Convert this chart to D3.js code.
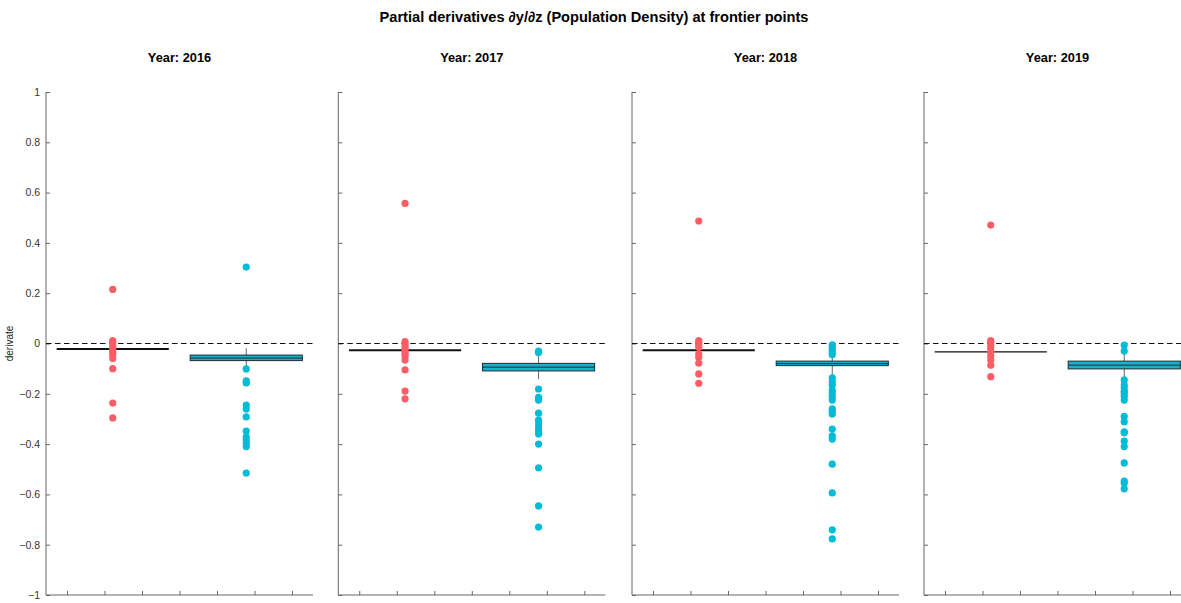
<!DOCTYPE html>
<html>
<head>
<meta charset="utf-8">
<script src="https://cdn.jsdelivr.net/npm/d3@7/dist/d3.min.js"></script>
<style>
  html, body { margin: 0; padding: 0; background: #fff; }
  svg { display: block; font-family: "Liberation Sans", Arial, Helvetica, sans-serif; }
</style>
</head>
<body>
<svg id="chart" width="1181" height="603"></svg>
<script>
// ---------------- DATA ----------------
const years = [2016, 2017, 2018, 2019];
const groups = ["A", "B"]; // two groups per panel (red, cyan)

// red group: compressed box (q1 = median = q3)
const redMedian = [-0.022, -0.027, -0.027, -0.033];
const redPoints = [
  [0.215, 0.012, 0.004, -0.005, -0.015, -0.025, -0.035, -0.045, -0.06, -0.10, -0.237, -0.296],
  [0.557, 0.008, 0.0, -0.01, -0.02, -0.03, -0.04, -0.05, -0.066, -0.105, -0.189, -0.22],
  [0.487, 0.012, 0.004, -0.005, -0.015, -0.042, -0.055, -0.078, -0.121, -0.158],
  [0.471, 0.012, 0.004, -0.008, -0.02, -0.035, -0.05, -0.066, -0.086, -0.132]
];

// cyan group: box statistics
const blueQ1 = [-0.068, -0.109, -0.088, -0.101];
const blueMedian = [-0.058, -0.094, -0.080, -0.086];
const blueQ3 = [-0.046, -0.079, -0.070, -0.070];
const blueWhiskerHigh = [-0.019, -0.042, -0.050, -0.038];
const blueWhiskerLow = [-0.090, -0.142, -0.125, -0.132];
const bluePoints = [
  [0.304, -0.101, -0.149, -0.157, -0.245, -0.26, -0.292, -0.348, -0.372, -0.384, -0.396, -0.41, -0.515],
  [-0.03, -0.036, -0.181, -0.214, -0.225, -0.277, -0.305, -0.32, -0.336, -0.348, -0.36, -0.40, -0.494, -0.646, -0.73],
  [-0.005, -0.015, -0.025, -0.035, -0.045, -0.137, -0.153, -0.165, -0.185, -0.197, -0.21, -0.225, -0.26, -0.27, -0.28, -0.34, -0.367, -0.38, -0.48, -0.594, -0.741, -0.777],
  [-0.006, -0.03, -0.145, -0.165, -0.177, -0.19, -0.198, -0.21, -0.225, -0.29, -0.311, -0.351, -0.355, -0.388, -0.41, -0.475, -0.547, -0.555, -0.578]
];

const yTicks = [-1, -0.8, -0.6, -0.4, -0.2, 0, 0.2, 0.4, 0.6, 0.8, 1];
const xTicks = [0.657, 0.938, 1.219, 1.5, 1.781, 2.062, 2.343];
const groupPos = [1, 2];

const titleText = "Partial derivatives \u2202y/\u2202z (Population Density) at frontier points";
const yLabel = "derivate";

// ---------------- LAYOUT ----------------
const svg = d3.select("#chart");
const panelLefts = [46, 338.3, 632, 924];
const panelWidth = 267;
const plotTop = 92, plotBottom = 595;
const redColor = "#ff5d66";
const cyanColor = "#00bcd6";
const boxFill = "#18b2c8";
const boxWidthUnits = 0.84;

const y = d3.scaleLinear().domain([-1, 1]).range([plotBottom, plotTop]);

svg.append("text")
  .attr("x", 594).attr("y", 22)
  .attr("text-anchor", "middle")
  .attr("font-size", 14.6).attr("font-weight", "bold")
  .attr("fill", "#000")
  .text(titleText);

svg.append("text")
  .attr("transform", `translate(13,${y(0)}) rotate(-90)`)
  .attr("text-anchor", "middle")
  .attr("font-size", 10)
  .attr("fill", "#222")
  .text(yLabel);

years.forEach((yr, i) => {
  const left = panelLefts[i];
  const x = d3.scaleLinear().domain([0.5, 2.5]).range([left, left + panelWidth]);
  const g = svg.append("g");

  // panel title
  g.append("text")
    .attr("x", left + panelWidth / 2).attr("y", 62)
    .attr("text-anchor", "middle")
    .attr("font-size", 12.8).attr("font-weight", "bold")
    .attr("fill", "#000")
    .text("Year: " + yr);

  // y axis (ticks inward)
  const yAxis = d3.axisRight(y).tickValues(yTicks).tickSize(4)
    .tickFormat(i === 0 ? d3.format("~g") : () => "");
  const ya = g.append("g").attr("transform", `translate(${left},0)`).call(yAxis);
  ya.select(".domain").attr("stroke", "#666").attr("d", `M0,${plotTop}V${plotBottom}`);
  ya.selectAll(".tick line").attr("stroke", "#666");
  ya.selectAll(".tick text")
    .attr("x", -6).attr("text-anchor", "end")
    .attr("font-size", 10.5).attr("fill", "#333")
    .attr("font-family", "Liberation Sans, Arial, sans-serif");

  // x axis (ticks inward, no labels)
  const xAxis = d3.axisTop(x).tickValues(xTicks).tickSize(4).tickFormat(() => "");
  const xa = g.append("g").attr("transform", `translate(0,${plotBottom})`).call(xAxis);
  xa.select(".domain").attr("stroke", "#666").attr("d", `M${left},0H${left + panelWidth}`);
  xa.selectAll(".tick line").attr("stroke", "#666");

  // zero reference line
  g.append("line")
    .attr("x1", left).attr("x2", left + panelWidth)
    .attr("y1", y(0)).attr("y2", y(0))
    .attr("stroke", "#111").attr("stroke-width", 1.1)
    .attr("stroke-dasharray", "5.5,3.5");

  // red group box (collapsed to a line)
  const rx = groupPos[0];
  g.append("line")
    .attr("x1", x(rx - boxWidthUnits / 2)).attr("x2", x(rx + boxWidthUnits / 2))
    .attr("y1", y(redMedian[i])).attr("y2", y(redMedian[i]))
    .attr("stroke", "#111").attr("stroke-width", i === 3 ? 1.3 : 2);

  // cyan group box
  const bx = groupPos[1];
  g.append("line")
    .attr("x1", x(bx)).attr("x2", x(bx))
    .attr("y1", y(blueWhiskerHigh[i])).attr("y2", y(blueWhiskerLow[i]))
    .attr("stroke", "#666").attr("stroke-width", 1);
  g.append("rect")
    .attr("x", x(bx - boxWidthUnits / 2))
    .attr("width", x(bx + boxWidthUnits / 2) - x(bx - boxWidthUnits / 2))
    .attr("y", y(blueQ3[i]))
    .attr("height", y(blueQ1[i]) - y(blueQ3[i]))
    .attr("fill", boxFill).attr("stroke", "#1d2b33").attr("stroke-width", 1);
  g.append("line")
    .attr("x1", x(bx - boxWidthUnits / 2)).attr("x2", x(bx + boxWidthUnits / 2))
    .attr("y1", y(blueMedian[i])).attr("y2", y(blueMedian[i]))
    .attr("stroke", "#1d2b33").attr("stroke-width", 1);

  // outlier points
  g.selectAll("circle.red").data(redPoints[i]).enter().append("circle")
    .attr("class", "red")
    .attr("cx", x(rx)).attr("cy", d => y(d)).attr("r", 3.6)
    .attr("fill", redColor);
  g.selectAll("circle.cyan").data(bluePoints[i]).enter().append("circle")
    .attr("class", "cyan")
    .attr("cx", x(bx)).attr("cy", d => y(d)).attr("r", 3.6)
    .attr("fill", cyanColor);
});
</script>
</body>
</html>
